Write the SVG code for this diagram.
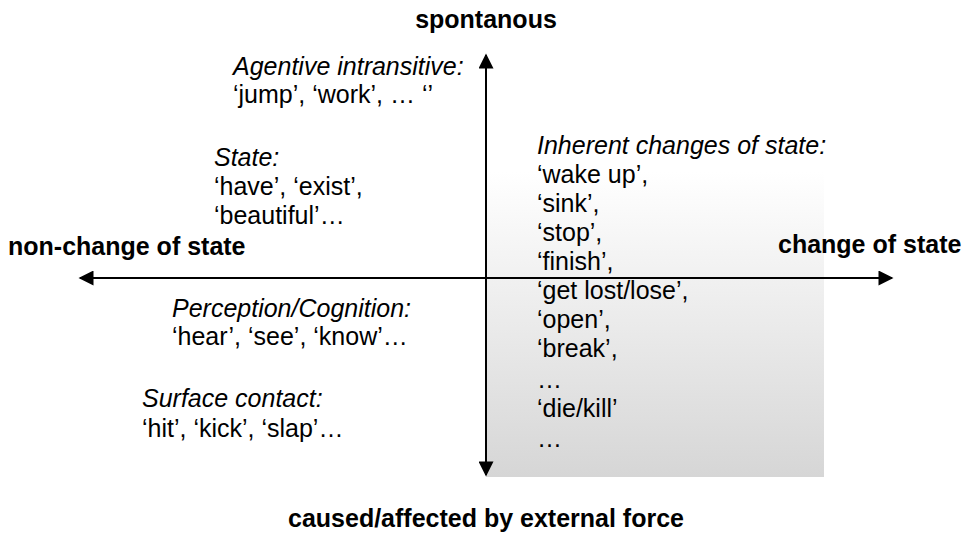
<svg xmlns="http://www.w3.org/2000/svg" width="966" height="537" viewBox="0 0 966 537">
<defs>
<linearGradient id="g" x1="0" y1="0" x2="0" y2="1">
<stop offset="0" stop-color="#ffffff"/>
<stop offset="1" stop-color="#d6d6d6"/>
</linearGradient>
<marker id="ah" viewBox="0 0 10 10" refX="9" refY="5" markerWidth="8" markerHeight="7.5" markerUnits="strokeWidth" orient="auto">
<path d="M0,0 L10,5 L0,10 Z" fill="#000"/>
</marker>
<style>
text{font-family:"Liberation Sans",Arial,sans-serif;font-size:25px;fill:#000}
.b{font-weight:bold}
.i{font-style:italic}
</style>
</defs>
<rect x="486" y="172" width="338" height="305" fill="url(#g)"/>
<g id="connectors" stroke="#000" stroke-width="2" fill="none">
<line x1="486" y1="278" x2="486" y2="55" marker-end="url(#ah)"/>
<line x1="486" y1="278" x2="486" y2="475" marker-end="url(#ah)"/>
<line x1="486" y1="278" x2="80" y2="278" marker-end="url(#ah)"/>
<line x1="486" y1="278" x2="892" y2="278" marker-end="url(#ah)"/>
</g>
<g id="axis-top"><text class="b" x="486" y="28" text-anchor="middle">spontanous</text></g>
<g id="axis-bottom"><text class="b" x="486" y="527" text-anchor="middle">caused/affected by external force</text></g>
<g id="axis-left"><text class="b" x="8" y="255">non-change of state</text></g>
<g id="axis-right"><text class="b" x="778" y="253">change of state</text></g>
<g id="agentive">
<text class="i" x="233" y="75">Agentive intransitive:</text>
<text x="233" y="103">‘jump’, ‘work’, … ‘’</text>
</g>
<g id="state">
<text class="i" x="214" y="166">State:</text>
<text x="214" y="195">‘have’, ‘exist’,</text>
<text x="214" y="224">‘beautiful’…</text>
</g>
<g id="perception">
<text class="i" x="172" y="317">Perception/Cognition:</text>
<text x="172" y="345">‘hear’, ‘see’, ‘know’…</text>
</g>
<g id="surface">
<text class="i" x="142" y="407">Surface contact:</text>
<text x="142" y="437">‘hit’, ‘kick’, ‘slap’…</text>
</g>
<g id="inherent">
<text class="i" x="537" y="154">Inherent changes of state:</text>
<text x="537" y="183">‘wake up’,</text>
<text x="537" y="212">‘sink’,</text>
<text x="537" y="241">‘stop’,</text>
<text x="537" y="270">‘finish’,</text>
<text x="537" y="299">‘get lost/lose’,</text>
<text x="537" y="328">‘open’,</text>
<text x="537" y="357">‘break’,</text>
<text x="537" y="388">…</text>
<text x="537" y="417">‘die/kill’</text>
<text x="537" y="447">…</text>
</g>
</svg>
